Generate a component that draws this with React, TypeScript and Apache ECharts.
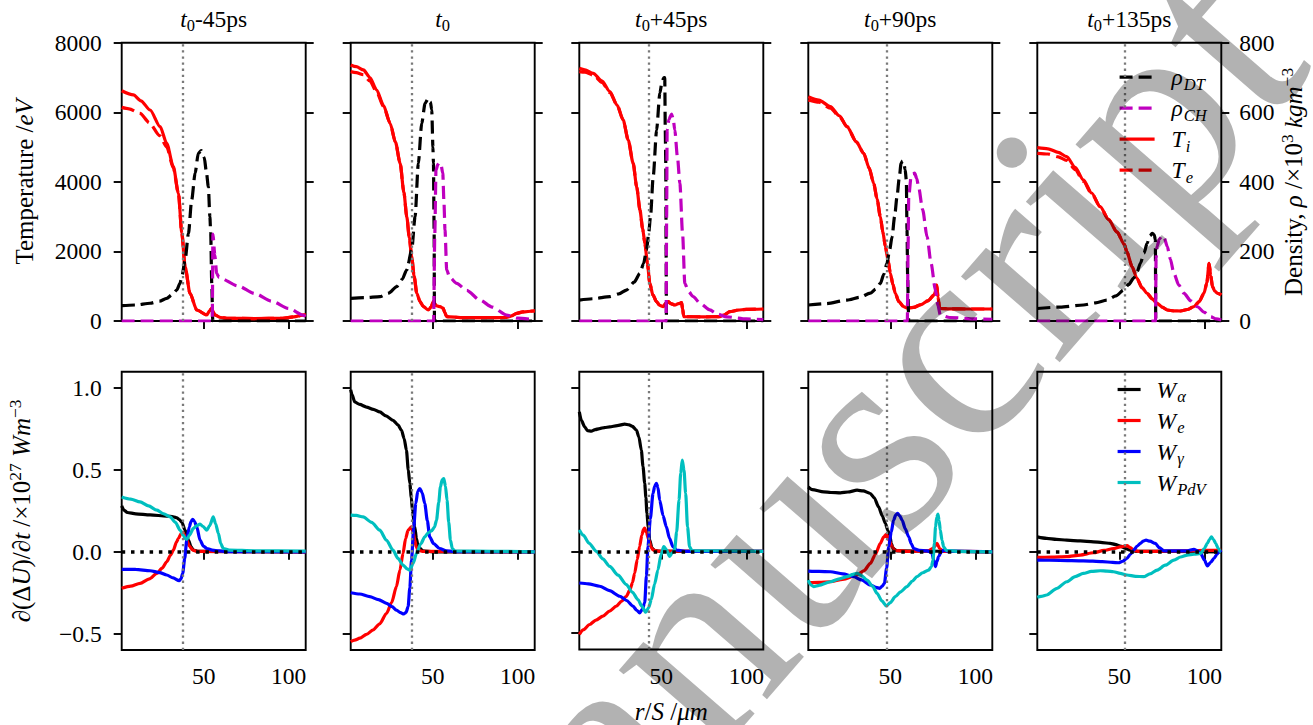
import React, { useEffect, useRef } from 'react';
import * as echarts from 'echarts';

// ---------------- data ----------------
const X_MIN = 1.7;
const X_MAX = 110;
const X_TICKS = [50, 100];
const W_TICKS = [-0.5, 0, 0.5, 1.0];
const PANEL_SUFFIX = ['-45ps', '', '+45ps', '+90ps', '+135ps'];
const SHELL_R = [37.6, 37.4, 42.4, 47.6, 52.9];

// panel 1 (t0-45ps)
const TI_1 = [[1.7,6620],[8.6,6500],[13,6330],[18.4,6066],[24.3,5586],[28.2,5108],[32.1,4436],[35.1,3671],[37.1,2521],[39,1561],[41.9,796],[45.9,316],[51.8,172],[53.5,300],[54.7,364],[55.6,250],[56.6,172],[60,100],[63.5,77],[80,70],[96.4,77],[103,120],[108.6,172],[110,180]];
const TE_1 = [[1.7,6140],[6,6100],[12.5,5970],[18,5700],[24,5330],[28.2,5000],[32.1,4400],[35.1,3660],[37.1,2521],[39,1561],[41.9,796],[45.9,316],[51.8,172],[53.5,300],[54.7,364],[55.6,250],[56.6,172],[60,100],[63.5,77],[80,70],[96.4,77],[103,120],[108.6,172],[110,180]];
const RDT_1 = [[1.7,44],[10,46],[18.4,51],[24,57],[28.2,65],[31.5,76],[34.1,89],[36,108],[37.1,127],[39,175],[41,252],[42.9,348],[44.9,425],[46.8,482],[48.5,490],[50.3,470],[51.5,430],[52.7,386],[53.6,300],[54.1,252],[54.7,108],[55.3,0],[110,0]];
const RCH_1 = [[1.7,0],[55,0],[55.4,250],[56.5,190],[57.6,137],[59,125],[70,101],[80,79],[90,57],[100,36],[108.6,17],[110,12]];
const WA_1 = [[1.7,0.28],[3,0.255],[5,0.24],[10,0.232],[18.4,0.225],[28.2,0.218],[32,0.214],[34.1,0.208],[35.6,0.197],[37.1,0.18],[39,0.132],[41,0.071],[42.5,0.03],[43.9,0.01],[47,0.002],[110,0]];
const WE_1 = [[1.7,-0.223],[7,-0.21],[12.5,-0.193],[18,-0.165],[22.4,-0.132],[25.5,-0.1],[28.2,-0.061],[30.5,-0.02],[32.1,0.01],[34,0.06],[35.1,0.082],[36.6,0.11],[37.6,0.118],[38.8,0.1],[40,0.071],[41.5,0.035],[43.6,0.01],[46,0.002],[110,0]];
const WG_1 = [[1.7,-0.107],[10,-0.108],[18.4,-0.116],[24,-0.127],[28.2,-0.142],[32,-0.16],[35.5,-0.177],[36.6,-0.165],[37.6,-0.132],[38.8,-0.04],[40,0.071],[41.5,0.152],[42.5,0.185],[43.5,0.198],[44.6,0.185],[45.9,0.152],[47.8,0.071],[49.8,0.035],[51.8,0.02],[55,0.01],[59,0.005],[65,0.001],[110,0]];
const WP_1 = [[1.7,0.335],[7,0.322],[12.5,0.305],[17.5,0.28],[22.4,0.254],[26.5,0.232],[30.2,0.213],[33.3,0.18],[36.1,0.132],[38,0.1],[39.2,0.08],[40,0.076],[41.5,0.1],[43.9,0.143],[46,0.16],[47.8,0.169],[49.5,0.155],[51.8,0.132],[53.5,0.16],[55.6,0.213],[57,0.17],[58.6,0.112],[60,0.05],[61.5,0.02],[65,0.01],[80,0.006],[110,0.004]];

// panel 2 (t0)
const TI_2 = [[1.7,7360],[5,7310],[9.2,7216],[13,7000],[17,6641],[21,6200],[24.9,5684],[28,5150],[30.8,4534],[33,3700],[34.7,2999],[36.2,2400],[37.6,1849],[39,1300],[40.6,796],[42.5,560],[44.5,412],[47.4,316],[49,400],[50.4,556],[52,440],[54.3,412],[56.2,364],[57,250],[58.2,124],[68,95],[80,95],[93.5,100],[96,140],[99.4,220],[103,260],[109.2,288],[110,290]];
const TE_2 = [[1.7,7170],[5,7140],[9.2,7080],[13,6900],[17,6580],[21,6170],[24.9,5684],[28,5150],[30.8,4534],[33,3700],[34.7,2999],[36.2,2400],[37.6,1849],[39,1300],[40.6,796],[42.5,560],[44.5,412],[47.4,316],[49,400],[50.4,556],[52,440],[54.3,412],[56.2,364],[57,250],[58.2,124],[68,95],[80,95],[93.5,100],[96,140],[99.4,220],[103,260],[109.2,288],[110,290]];
const RDT_2 = [[1.7,65],[10,67],[19,70],[24,80],[28.8,99],[32,120],[34.7,147],[37.6,204],[39.6,300],[41.5,453],[43.5,568],[45.5,626],[47.4,640],[48.6,630],[49.4,607],[50.1,500],[50.4,453],[50.8,262],[51,0],[110,0]];
const RCH_2 = [[1.7,0],[50.5,0],[51.2,250],[51.9,434],[53,450],[53.9,455],[55,445],[55.9,425],[56.6,340],[57.2,262],[58.2,147],[60,125],[64.1,108],[70,88],[77.8,60],[85,40],[93.5,17],[100,8],[110,4]];
const WA_2 = [[1.7,0.99],[2.5,0.96],[4.1,0.915],[7,0.9],[11,0.884],[15,0.87],[18.8,0.854],[22.5,0.83],[26.6,0.803],[29.5,0.775],[31.6,0.742],[33.2,0.69],[34.5,0.62],[35.6,0.5],[36.5,0.417],[37.4,0.33],[38,0.254],[39.4,0.152],[40.4,0.08],[41.4,0.03],[44.3,0.006],[50,0],[110,0]];
const WE_2 = [[1.7,-0.549],[4,-0.54],[7.1,-0.528],[11,-0.505],[14.9,-0.477],[18.8,-0.44],[22.8,-0.376],[25.8,-0.31],[28.6,-0.213],[30.7,-0.11],[32.5,-0.01],[34,0.08],[35.5,0.132],[37.5,0.152],[38.5,0.12],[39.4,0.071],[40.3,0.03],[41.4,0.01],[44,0.002],[110,0]];
const WG_2 = [[1.7,-0.25],[7,-0.258],[12.9,-0.274],[18,-0.292],[22.8,-0.315],[26,-0.335],[28.6,-0.356],[31,-0.372],[32.9,-0.38],[34.3,-0.37],[35.5,-0.335],[36.5,-0.22],[37.5,-0.05],[38.8,0.15],[40,0.295],[41.2,0.37],[42.4,0.386],[43.8,0.36],[45.3,0.295],[46.8,0.19],[48.2,0.091],[50.5,0.05],[54.1,0.02],[58,0.005],[65,0.001],[110,0]];
const WP_2 = [[1.7,0.224],[5,0.222],[9,0.213],[14,0.18],[18.8,0.132],[22.8,0.07],[26.6,0.01],[29.5,-0.04],[32.5,-0.081],[35,-0.105],[36.5,-0.112],[38.5,-0.07],[40.4,-0.01],[43,0.05],[45.3,0.091],[47.3,0.115],[49.2,0.128],[51,0.15],[52.2,0.193],[53.5,0.3],[54.5,0.396],[55.5,0.44],[56.5,0.447],[57.5,0.4],[58.4,0.315],[59.4,0.18],[60.4,0.071],[61.5,0.02],[63,0.005],[110,0]];

// panel 3 (t0+45ps)
const TI_3 = [[1.7,7265],[5,7220],[9.9,7120],[15,6900],[19.7,6593],[24,6200],[27.5,5779],[30.5,5200],[33.4,4534],[35.5,3850],[37.4,3191],[39,2650],[40.3,2234],[41.8,1650],[43.2,1083],[45,750],[47.2,556],[49,450],[51.1,412],[52.5,500],[54,556],[55.5,500],[57.9,460],[60,500],[61.9,527],[62.5,350],[63.2,124],[75,120],[84.4,124],[87,180],[90.3,268],[95,310],[100,335],[110,345]];
const TE_3 = [[1.7,7170],[5,7150],[9.9,7070],[15,6860],[19.7,6570],[24,6200],[27.5,5779],[30.5,5200],[33.4,4534],[35.5,3850],[37.4,3191],[39,2650],[40.3,2234],[41.8,1650],[43.2,1083],[45,750],[47.2,556],[49,450],[51.1,412],[52.5,500],[54,556],[55.5,500],[57.9,460],[60,500],[61.9,527],[62.5,350],[63.2,124],[75,120],[84.4,124],[87,180],[90.3,268],[95,310],[100,335],[110,345]];
const RDT_3 = [[1.7,60],[10,64],[19.7,70],[25,78],[29.5,89],[34,112],[37.4,137],[39.5,165],[41.3,204],[42.6,255],[43.6,300],[45.2,415],[47.2,549],[49.1,655],[50.5,690],[51.5,700],[52,700],[52.3,550],[52.6,453],[52.8,200],[53,0],[110,0]];
const RCH_3 = [[1.7,0],[52.8,0],[53.1,300],[53.4,549],[54.5,580],[56,595],[57,580],[57.9,549],[59.5,470],[60.9,396],[62.5,250],[63.8,108],[66,85],[68.7,70],[73,50],[78.5,32],[83,20],[88.4,12],[100,6],[110,4]];
const WA_3 = [[1.7,0.854],[3,0.8],[4.9,0.762],[6.5,0.74],[8.8,0.736],[11,0.745],[13.7,0.752],[16.5,0.758],[19.6,0.762],[24,0.77],[28.4,0.779],[31,0.775],[33,0.765],[35.3,0.742],[36.8,0.7],[38.2,0.62],[39.2,0.52],[40.2,0.417],[40.9,0.33],[41.5,0.234],[42.3,0.15],[43.1,0.071],[44.5,0.02],[46,0.006],[50,0],[110,0]];
const WE_3 = [[1.7,-0.508],[4,-0.48],[7.8,-0.447],[11.5,-0.42],[15.6,-0.396],[19.5,-0.365],[23.5,-0.335],[26.5,-0.305],[29.4,-0.274],[31.5,-0.235],[33,-0.19],[34.3,-0.132],[35.8,-0.05],[37.2,0.03],[38.5,0.1],[39.5,0.135],[40.2,0.143],[41,0.12],[42.7,0.071],[43.8,0.03],[45,0.01],[48,0.002],[110,0]];
const WG_3 = [[1.7,-0.193],[7,-0.198],[13.7,-0.213],[19.5,-0.24],[25.5,-0.274],[29.5,-0.3],[33.3,-0.335],[35.5,-0.36],[37.2,-0.376],[38.7,-0.355],[40.2,-0.315],[41.2,-0.15],[42.1,0.03],[43.5,0.2],[45.1,0.356],[46.1,0.4],[47.1,0.417],[48,0.39],[49,0.315],[51,0.22],[52.9,0.152],[54.8,0.08],[56.8,0.03],[59,0.008],[65,0.001],[110,0]];
const WP_3 = [[1.7,0.132],[4,0.1],[7.5,0.05],[11.8,0],[15.5,-0.045],[19.6,-0.091],[24.5,-0.145],[29.4,-0.203],[33,-0.25],[36.2,-0.294],[38.5,-0.335],[40.8,-0.372],[42.5,-0.345],[44.1,-0.294],[46,-0.2],[48,-0.112],[49.8,-0.02],[51.4,0.03],[53,0.01],[54.9,-0.03],[56.3,-0.01],[57.8,0.01],[59,0.12],[60.4,0.315],[61.4,0.48],[62.3,0.559],[63.3,0.5],[64.3,0.356],[65.4,0.15],[66.6,0.03],[68,0.005],[110,0]];

// panel 4 (t0+90ps)
const TI_4 = [[1.7,6449],[8,6350],[14.7,6161],[20,5900],[24.5,5586],[30,5150],[34.3,4821],[37.5,4400],[40.2,3959],[42.2,3500],[44.1,2999],[45.6,2550],[47.1,2136],[48.6,1750],[50,1371],[51.5,1050],[52.9,796],[55,560],[57.8,412],[60,370],[63.7,390],[68,470],[72,580],[76,760],[77.3,1035],[78,700],[79,365],[85,350],[95,345],[110,345]];
const TE_4 = [[1.7,6354],[8,6290],[14.7,6120],[20,5880],[24.5,5586],[30,5150],[34.3,4821],[37.5,4400],[40.2,3959],[42.2,3500],[44.1,2999],[45.6,2550],[47.1,2136],[48.6,1750],[50,1371],[51.5,1050],[52.9,796],[55,560],[57.8,412],[60,370],[63.7,390],[68,470],[72,580],[76,760],[77.3,1035],[78,700],[79,365],[85,350],[95,345],[110,345]];
const RDT_4 = [[1.7,46],[12,50],[24.5,60],[32,68],[38.2,80],[41.5,92],[44.1,108],[46.2,135],[48,166],[49.6,205],[51,242],[52.5,300],[53.9,357],[55.2,410],[56.3,453],[57.2,460],[57.8,458],[58.7,435],[59.4,405],[59.8,262],[60.2,120],[60.8,0],[110,0]];
const RCH_4 = [[1.7,0],[60,0],[60.4,200],[60.8,357],[62.2,415],[63.2,423],[64.3,425],[65.5,410],[66.6,386],[69,320],[71.6,242],[74,165],[76.5,89],[78,45],[79.4,17],[85,10],[100,6],[110,5]];
const WA_4 = [[1.7,0.396],[4,0.38],[10.8,0.366],[15,0.362],[20.6,0.36],[25,0.365],[30.4,0.376],[34,0.372],[38.2,0.356],[40.5,0.33],[43.1,0.274],[45.2,0.22],[47.1,0.173],[48.5,0.13],[49.6,0.102],[50.6,0.05],[51.6,0.02],[54,0.005],[110,0]];
const WE_4 = [[1.7,-0.189],[8,-0.187],[14.7,-0.183],[22,-0.168],[30.4,-0.142],[34.5,-0.115],[38.2,-0.071],[41.2,-0.015],[44.1,0.051],[46,0.09],[47.6,0.106],[49.3,0.07],[51,0.03],[53,0.008],[60,0.002],[72,0.005],[75,0.02],[77.5,0.051],[79,0.02],[81,0.003],[110,0]];
const WG_4 = [[1.7,-0.118],[8,-0.12],[14.7,-0.122],[22,-0.135],[28.4,-0.152],[33,-0.172],[38.2,-0.203],[41.5,-0.218],[43.7,-0.223],[45.2,-0.21],[46.5,-0.193],[47.8,-0.1],[49,0.03],[50.5,0.12],[51.9,0.193],[53.2,0.225],[54.3,0.234],[55.5,0.22],[56.9,0.193],[58.8,0.14],[60.8,0.091],[62.3,0.05],[63.7,0.02],[67,0.008],[71.6,0.005],[73.5,0],[74.5,-0.01],[75.5,-0.05],[76.5,-0.091],[77.4,-0.06],[78.4,-0.03],[80,0],[81.4,0.01],[84,0.004],[110,0]];
const WP_4 = [[1.7,-0.173],[3,-0.2],[4.9,-0.213],[8,-0.205],[14.7,-0.183],[20,-0.165],[24.5,-0.152],[28,-0.138],[30.4,-0.132],[33,-0.145],[36.3,-0.173],[39.5,-0.21],[42.2,-0.254],[45,-0.3],[47.6,-0.331],[50,-0.31],[52.9,-0.274],[56,-0.245],[59.8,-0.213],[62.8,-0.18],[65.7,-0.152],[69,-0.128],[72.5,-0.112],[74.2,-0.09],[75.1,-0.051],[75.9,0.05],[76.6,0.152],[77.3,0.21],[78,0.23],[78.7,0.19],[79.4,0.132],[80.4,0.07],[81.4,0.03],[83,0.008],[90,0.002],[110,0]];

// panel 5 (t0+135ps)
const TI_5 = [[1.7,4982],[8,4950],[14,4850],[19,4724],[24,4420],[28.8,4054],[33.7,3680],[38.7,3286],[43.6,2920],[48.6,2560],[52.9,2200],[54.5,1980],[57.5,1560],[60.4,1220],[63.3,960],[66.3,796],[69.3,640],[72.2,509],[75.2,400],[78.2,316],[82,290],[86,288],[90,330],[93.9,412],[97,560],[99.8,796],[101.5,1100],[102.8,1659],[103.8,1300],[104.8,987],[106.3,850],[107.8,796],[110,750]];
const TE_5 = [[1.7,4821],[8,4800],[14,4720],[19,4620],[24,4350],[28.8,4020],[33.7,3660],[38.7,3286],[43.6,2920],[48.6,2560],[52.9,2200],[54.5,1980],[57.5,1560],[60.4,1220],[63.3,960],[66.3,796],[69.3,640],[72.2,509],[75.2,400],[78.2,316],[82,290],[86,288],[90,330],[93.9,412],[97,560],[99.8,796],[101.5,1100],[102.8,1659],[103.8,1300],[104.8,987],[106.3,850],[107.8,796],[110,750]];
const RDT_5 = [[1.7,36],[15,40],[28.8,46],[36,52],[42.7,60],[48,72],[52.5,89],[55.5,105],[58.4,123],[60.5,142],[62.4,166],[64.5,195],[66.3,223],[68,245],[69.3,252],[70.5,248],[71.2,233],[71.4,0],[110,0]];
const RCH_5 = [[1.7,0],[71.3,0],[71.6,180],[72.2,214],[73.5,235],[75.2,245],[76.5,238],[78.2,214],[80,178],[82.1,137],[85,103],[88,80],[92,58],[95.9,41],[100,25],[103.8,12],[107,6],[110,3]];
const WA_5 = [[1.7,0.091],[7.2,0.082],[13,0.076],[19,0.071],[27,0.066],[34.7,0.061],[40,0.056],[44.6,0.051],[47.5,0.045],[50.5,0.035],[53.5,0.02],[56.4,0.01],[60,0.003],[110,0]];
const WE_5 = [[1.7,-0.034],[10,-0.033],[19,-0.03],[27,-0.02],[34.7,-0.006],[41,0.008],[46.6,0.02],[50.5,0.03],[54.5,0.037],[56.5,0.025],[58.4,0.01],[61,0.003],[70,0.003],[90,0.005],[100,0.008],[110,0.01]];
const WG_5 = [[1.7,-0.051],[15,-0.052],[28.8,-0.055],[40,-0.06],[46,-0.065],[49.5,-0.067],[52,-0.058],[54.5,-0.04],[56.5,-0.015],[58.4,0.01],[60.5,0.035],[62.4,0.051],[64,0.065],[65.7,0.071],[68,0.065],[71.2,0.051],[73.5,0.025],[76.2,0.006],[85,0.005],[90,0.006],[93.9,0.015],[96,0.005],[97.9,-0.01],[100,-0.05],[101.8,-0.087],[103.7,-0.065],[105.7,-0.04],[107.5,-0.015],[108.6,0],[110,0.01]];
const WP_5 = [[1.7,-0.278],[4,-0.272],[7.2,-0.264],[13,-0.225],[19,-0.183],[24,-0.152],[28.8,-0.132],[33.5,-0.12],[38.7,-0.116],[42.7,-0.118],[46.6,-0.122],[50.5,-0.132],[54.5,-0.142],[59.5,-0.15],[64.3,-0.152],[68,-0.135],[72.2,-0.112],[77,-0.082],[82.1,-0.051],[86,-0.032],[90,-0.02],[94,-0.015],[97.9,-0.01],[100,0.02],[101.8,0.051],[103,0.075],[104.2,0.091],[105.4,0.075],[106.7,0.051],[108.2,0.02],[109.6,0],[110,0]];

const TOP_PANELS = [
  { ti: TI_1, te: TE_1, rdt: RDT_1, rch: RCH_1 },
  { ti: TI_2, te: TE_2, rdt: RDT_2, rch: RCH_2 },
  { ti: TI_3, te: TE_3, rdt: RDT_3, rch: RCH_3 },
  { ti: TI_4, te: TE_4, rdt: RDT_4, rch: RCH_4 },
  { ti: TI_5, te: TE_5, rdt: RDT_5, rch: RCH_5 },
];
const BOTTOM_PANELS = [
  { wa: WA_1, we: WE_1, wg: WG_1, wp: WP_1 },
  { wa: WA_2, we: WE_2, wg: WG_2, wp: WP_2 },
  { wa: WA_3, we: WE_3, wg: WG_3, wp: WP_3 },
  { wa: WA_4, we: WE_4, wg: WG_4, wp: WP_4 },
  { wa: WA_5, we: WE_5, wg: WG_5, wp: WP_5 },
];

// ---------------- styling ----------------
const FONT = 'Liberation Serif';
const FS = 23.5;
const NFS = 25;
const SFS = 16.5;
const LEFTS = [121.7, 350.7, 579.3, 808.3, 1037.3];
const PW = 184;
const PH = 278.3;
const TOP1 = 42.7;
const TOP2 = 371.7;
const LW = 3.2;
const DASH = [13, 6];
const FRAME = 1.9;
const TICK_LEN = 8;

const C = { black: '#000000', mag: '#bf00bf', red: '#ff0000', blue: '#0000ff', cyan: '#00bfbf', grey: '#7a7a7a' };

const LEGEND_TEXT: Record<string, string> = {
  rho_DT: '{m|ρ}{s|DT}',
  rho_CH: '{m|ρ}{s|CH}',
  T_i: '{m|T}{s|i}',
  T_e: '{m|T}{s|e}',
  W_alpha: '{m|W}{s|α}',
  W_e: '{m|W}{s|e}',
  W_gamma: '{m|W}{s|γ}',
  W_PdV: '{m|W}{s|PdV}',
};

function labelRich(lh: number, fs: number) {
  const sfs = fs * 0.7;
  return {
    i: { fontFamily: FONT, fontSize: fs, fontStyle: 'italic', color: '#000', lineHeight: lh },
    r: { fontFamily: FONT, fontSize: fs, color: '#000', lineHeight: lh },
    sup: { fontFamily: FONT, fontSize: sfs, color: '#000', lineHeight: lh, padding: [0, 0, 13, 0] },
    s: { fontFamily: FONT, fontSize: sfs, color: '#000', lineHeight: lh, padding: [13, 0, 0, 0] },
  };
}

function legendRich(lh: number, gap: number) {
  return {
    m: { fontFamily: FONT, fontSize: FS, fontStyle: 'italic', color: '#000', lineHeight: lh, padding: [0, 0, 0, gap] },
    s: { fontFamily: FONT, fontSize: SFS, fontStyle: 'italic', color: '#000', lineHeight: lh, padding: [14, 0, 0, 1] },
  };
}

const tickRich = { n: { fontFamily: FONT, fontSize: FS, color: '#000' } };

function buildOption() {
  const grid: any[] = [];
  const xAxis: any[] = [];
  const yAxis: any[] = [];
  const series: any[] = [];
  const tickStyle = { color: '#000', width: FRAME };
  const labelBase = { fontFamily: FONT, fontSize: FS, color: '#000', rich: tickRich };
  const nameBase = { fontFamily: FONT, fontSize: NFS, color: '#000', rich: labelRich(28, NFS) };
  const plain = (v: number) => '{n|' + String(v) + '}';

  for (let row = 0; row < 2; row++) {
    for (let i = 0; i < 5; i++) {
      grid.push({
        left: LEFTS[i], top: row === 0 ? TOP1 : TOP2, width: PW, height: PH,
        show: true, borderColor: '#000', borderWidth: FRAME, backgroundColor: 'transparent',
      });
      const isNameAxis = row === 1 && i === 2;
      xAxis.push({
        type: 'value', gridIndex: row * 5 + i, min: X_MIN, max: X_MAX,
        axisLine: { show: false }, splitLine: { show: false },
        axisTick: { show: true, length: TICK_LEN, lineStyle: tickStyle, customValues: X_TICKS },
        axisLabel: { show: row === 1, customValues: X_TICKS, margin: 14, formatter: plain, ...labelBase },
        name: isNameAxis ? '{i|r}{r|/}{i|S} {r|/}{i|μm}' : '',
        nameLocation: 'middle', nameGap: 48,
        nameTextStyle: nameBase,
      });
    }
  }
  // temperature axes (0-4)
  for (let i = 0; i < 5; i++) {
    yAxis.push({
      type: 'value', gridIndex: i, min: 0, max: 8000, interval: 2000, position: 'left',
      axisLine: { show: false }, splitLine: { show: false },
      axisTick: { show: true, length: TICK_LEN, lineStyle: tickStyle },
      axisLabel: { show: i === 0, margin: 20, formatter: plain, ...labelBase },
      name: i === 0 ? '{r|Temperature} {r|/}{i|eV}' : '',
      nameLocation: 'middle', nameRotate: 90, nameGap: 83,
      nameTextStyle: nameBase,
    });
  }
  // density axes (5-9)
  for (let i = 0; i < 5; i++) {
    yAxis.push({
      type: 'value', gridIndex: i, min: 0, max: 800, interval: 200, position: 'right',
      axisLine: { show: false }, splitLine: { show: false },
      axisTick: { show: true, length: TICK_LEN, lineStyle: tickStyle },
      axisLabel: { show: i === 4, margin: 18, formatter: plain, ...labelBase },
      name: i === 4 ? '{r|Density,} {i|ρ} {r|/×10}{sup|3} {i|kgm}{sup|−3}' : '',
      nameLocation: 'middle', nameRotate: 90, nameGap: 56,
      nameTextStyle: nameBase,
    });
  }
  // power axes (10-14)
  for (let i = 0; i < 5; i++) {
    yAxis.push({
      type: 'value', gridIndex: 5 + i, min: -0.6, max: 1.1, position: 'left',
      axisLine: { show: false }, splitLine: { show: false },
      axisTick: { show: true, length: TICK_LEN, lineStyle: tickStyle, customValues: W_TICKS },
      axisLabel: {
        show: i === 0, margin: 20, customValues: W_TICKS, ...labelBase,
        formatter: (v: number) => '{n|' + (v < 0 ? '−' + Math.abs(v).toFixed(1) : v.toFixed(1)) + '}',
      },
      name: i === 0 ? '{i|∂}{r|(Δ}{i|U}{r|)/}{i|∂t} {r|/×10}{sup|27} {i|Wm}{sup|−3}' : '',
      nameLocation: 'middle', nameRotate: 90, nameGap: 86,
      nameTextStyle: nameBase,
    });
  }

  const lineCommon = { type: 'line', showSymbol: false, symbol: 'none', smooth: 0.25, smoothMonotone: 'x', animation: false, silent: true };
  const vline = (r: number) => ({
    silent: true, symbol: ['none', 'none'], label: { show: false },
    lineStyle: { color: C.grey, type: [2.3, 3.8], width: 2.3 },
    data: [{ xAxis: r }],
  });

  TOP_PANELS.forEach((p, i) => {
    series.push({ ...lineCommon, name: 'T_i', xAxisIndex: i, yAxisIndex: i, data: p.ti,
      lineStyle: { color: C.red, width: LW }, itemStyle: { color: C.red }, markLine: vline(SHELL_R[i]) });
    series.push({ ...lineCommon, name: 'T_e', xAxisIndex: i, yAxisIndex: i, data: p.te,
      lineStyle: { color: C.red, width: LW, type: DASH }, itemStyle: { color: C.red } });
    series.push({ ...lineCommon, name: 'rho_DT', xAxisIndex: i, yAxisIndex: 5 + i, data: p.rdt,
      lineStyle: { color: C.black, width: LW, type: DASH }, itemStyle: { color: C.black } });
    series.push({ ...lineCommon, name: 'rho_CH', xAxisIndex: i, yAxisIndex: 5 + i, data: p.rch,
      lineStyle: { color: C.mag, width: LW, type: DASH }, itemStyle: { color: C.mag } });
  });
  BOTTOM_PANELS.forEach((p, i) => {
    const xi = 5 + i;
    const yi = 10 + i;
    series.push({ ...lineCommon, name: 'W_alpha', xAxisIndex: xi, yAxisIndex: yi, data: p.wa,
      lineStyle: { color: C.black, width: LW }, itemStyle: { color: C.black }, markLine: vline(SHELL_R[i]) });
    series.push({ ...lineCommon, name: 'W_e', xAxisIndex: xi, yAxisIndex: yi, data: p.we,
      lineStyle: { color: C.red, width: LW }, itemStyle: { color: C.red } });
    series.push({ ...lineCommon, name: 'W_gamma', xAxisIndex: xi, yAxisIndex: yi, data: p.wg,
      lineStyle: { color: C.blue, width: LW }, itemStyle: { color: C.blue } });
    series.push({ ...lineCommon, name: 'W_PdV', xAxisIndex: xi, yAxisIndex: yi, data: p.wp,
      lineStyle: { color: C.cyan, width: LW }, itemStyle: { color: C.cyan },
      markLine: {
        silent: true, symbol: ['none', 'none'], label: { show: false },
        lineStyle: { color: '#000', type: [3.5, 5.8], width: 3.5 },
        data: [{ yAxis: 0 }],
      } });
  });

  const legendCommon = {
    orient: 'vertical', padding: 0, itemGap: 0, itemHeight: 4, selectedMode: false,
    itemStyle: { opacity: 0 },
    formatter: (n: string) => LEGEND_TEXT[n] || n,
  };

  const graphic: any[] = [];
  PANEL_SUFFIX.forEach((suf, i) => {
    graphic.push({
      type: 'text', x: LEFTS[i] + PW / 2, y: 19, silent: true,
      style: {
        text: '{i|t}{s|0}' + (suf ? '{r|' + suf + '}' : ''),
        rich: labelRich(28, FS), align: 'center', verticalAlign: 'middle',
        fontFamily: FONT, fontSize: FS, fill: '#000',
      },
    });
  });
  graphic.push({
    type: 'text', x: -361, y: 1851, rotation: (49 * Math.PI) / 180, silent: true, z: 100,
    style: {
      text: 'Accepted Manuscript', fontFamily: FONT, fontSize: 285,
      fill: 'rgba(0,0,0,0.3)', align: 'left', verticalAlign: 'middle',
    },
  });

  return {
    animation: false,
    backgroundColor: '#ffffff',
    textStyle: { fontFamily: FONT },
    grid, xAxis, yAxis, series, graphic,
    legend: [
      { ...legendCommon, left: 1118, top: 61.6, itemWidth: 35,
        data: ['rho_DT', 'rho_CH', 'T_i', 'T_e'],
        lineStyle: { width: LW },
        textStyle: { color: '#000', fontFamily: FONT, fontSize: FS, rich: legendRich(26.7, 12) } },
      { ...legendCommon, left: 1116, top: 374, itemWidth: 23,
        data: ['W_alpha', 'W_e', 'W_gamma', 'W_PdV'],
        lineStyle: { width: LW },
        textStyle: { color: '#000', fontFamily: FONT, fontSize: FS, rich: legendRich(28.3, 11) } },
    ],
  };
}

export default function App() {
  const ref = useRef<HTMLDivElement>(null);
  useEffect(() => {
    if (!ref.current) return;
    const chart = echarts.init(ref.current, undefined, { renderer: 'svg' });
    chart.setOption(buildOption() as any);
    return () => chart.dispose();
  }, []);
  return (
    <div
      ref={ref}
      style={{ position: 'absolute', left: 0, top: 0, width: 1313, height: 725, background: '#fff' }}
    />
  );
}
